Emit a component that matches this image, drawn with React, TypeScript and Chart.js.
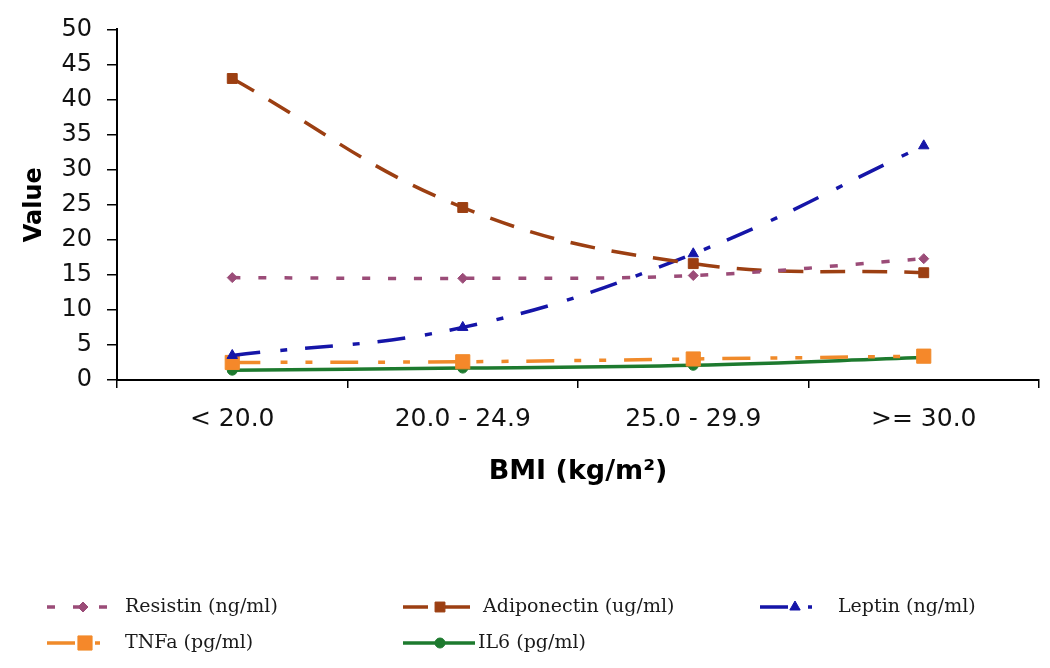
import React, { useEffect, useRef } from 'react';
import { Chart, registerables } from 'chart.js';
import { drawPoint } from 'chart.js/helpers';

Chart.register(...registerables);

const categories = ['< 20.0', '20.0 - 24.9', '25.0 - 29.9', '>= 30.0'];
const resistin = [14.6, 14.5, 14.9, 17.3];
const adiponectin = [43.0, 24.6, 16.6, 15.3];
const leptin = [3.5, 7.5, 18.0, 33.4];
const tnfa = [2.5, 2.6, 3.0, 3.4];
const il6 = [1.4, 1.7, 2.1, 3.2];
const seriesNames = ['Resistin (ng/ml)', 'Adiponectin (ug/ml)', 'Leptin (ng/ml)', 'TNFa (pg/ml)', 'IL6 (pg/ml)'];

const legendLayout = [
  { x0: 47, x1: 108, mx: 83, tx: 125, y: 607 },
  { x0: 403, x1: 478, mx: 440, tx: 483, y: 607 },
  { x0: 760, x1: 812, mx: 795, tx: 838, y: 607 },
  { x0: 47, x1: 100, mx: 85, tx: 125, y: 643 },
  { x0: 403, x1: 475, mx: 440, tx: 478, y: 643 },
];

const legendPlugin = {
  id: 'fixedLegend',
  afterDraw(chart: any) {
    const ctx = chart.ctx;
    chart.data.datasets.forEach((ds: any, i: number) => {
      const L = legendLayout[i];
      ctx.save();
      ctx.strokeStyle = ds.borderColor;
      ctx.lineWidth = ds.borderWidth;
      ctx.setLineDash(ds.borderDash || []);
      ctx.beginPath();
      ctx.moveTo(L.x0, L.y);
      ctx.lineTo(L.x1, L.y);
      ctx.stroke();
      ctx.setLineDash([]);
      ctx.fillStyle = ds.pointBackgroundColor;
      ctx.strokeStyle = ds.pointBorderColor;
      ctx.lineWidth = 1;
      drawPoint(ctx, { pointStyle: ds.pointStyle, radius: ds.pointRadius, rotation: 0, borderWidth: 1 }, L.mx, L.y);
      ctx.fillStyle = '#1a1a1a';
      ctx.font = '19px "DejaVu Serif", serif';
      ctx.textBaseline = 'middle';
      ctx.textAlign = 'left';
      ctx.fillText(ds.label, L.tx, L.y);
      ctx.restore();
    });
  },
};

export default function App() {
  const ref = useRef<HTMLCanvasElement | null>(null);
  useEffect(() => {
    document.body.style.margin = '0';
    const canvas = ref.current!;
    const mk = (label: string, data: number[], color: string, dash: number[], style: string, radius: number, fill: string) => ({
      label,
      data,
      borderColor: color,
      borderWidth: 3.5,
      borderDash: dash,
      tension: 0.4,
      pointStyle: style,
      pointRadius: radius,
      pointBackgroundColor: fill,
      pointBorderColor: color,
      pointBorderWidth: 1,
      fill: false,
    });
    const chart = new Chart(canvas, {
      type: 'line',
      data: {
        labels: categories,
        datasets: [
          mk(seriesNames[0], resistin, '#9b4c78', [8, 18], 'rectRot', 5, '#9b4c78'),
          mk(seriesNames[1], adiponectin, '#9c3f12', [25, 17], 'rect', 7, '#9c3f12'),
          mk(seriesNames[2], leptin, '#1515a8', [28, 20, 7, 18], 'triangle', 6, '#1515a8'),
          mk(seriesNames[3], tnfa, '#f08a2a', [28, 20, 7, 18, 7, 18], 'rect', 10, '#f5882a'),
          mk(seriesNames[4], il6, '#1d7a2e', [], 'circle', 5, '#1d7a2e'),
        ] as any,
      },
      options: {
        responsive: false,
        animation: false,
        layout: { padding: { top: 28, right: 9, bottom: 0, left: 0 } },
        plugins: { legend: { display: false }, tooltip: { enabled: false } },
        scales: {
          x: {
            offset: true,
            grid: { offset: true, drawOnChartArea: false, tickLength: 8, color: '#000', lineWidth: 1.5 },
            border: { color: '#000', width: 2 },
            ticks: { font: { family: 'DejaVu Sans', size: 25 }, color: '#111', padding: 16, maxRotation: 0 },
            title: {
              display: true,
              text: 'BMI (kg/m²)',
              font: { family: 'DejaVu Sans', size: 27, weight: 'bold' },
              color: '#000',
              padding: { top: 0, bottom: 180 },
            },
            afterFit: (s: any) => { s.height = 288; },
          },
          y: {
            min: 0,
            max: 50,
            ticks: { stepSize: 5, font: { family: 'DejaVu Sans', size: 24 }, color: '#111', padding: 15 },
            grid: { drawOnChartArea: false, tickLength: 10, color: '#000', lineWidth: 1.5 },
            border: { color: '#000', width: 2 },
            title: {
              display: true,
              text: 'Value',
              font: { family: 'DejaVu Sans', size: 24, weight: 'bold' },
              color: '#000',
              padding: { top: 20, bottom: 0 },
            },
            afterFit: (s: any) => { s.width = 117; },
          },
        },
      } as any,
      plugins: [legendPlugin],
    });
    return () => chart.destroy();
  }, []);
  return (
    <div style={{ width: 1050, height: 668, background: '#fff' }}>
      <canvas ref={ref} width={1050} height={668} style={{ width: 1050, height: 668, display: 'block' }} />
    </div>
  );
}
